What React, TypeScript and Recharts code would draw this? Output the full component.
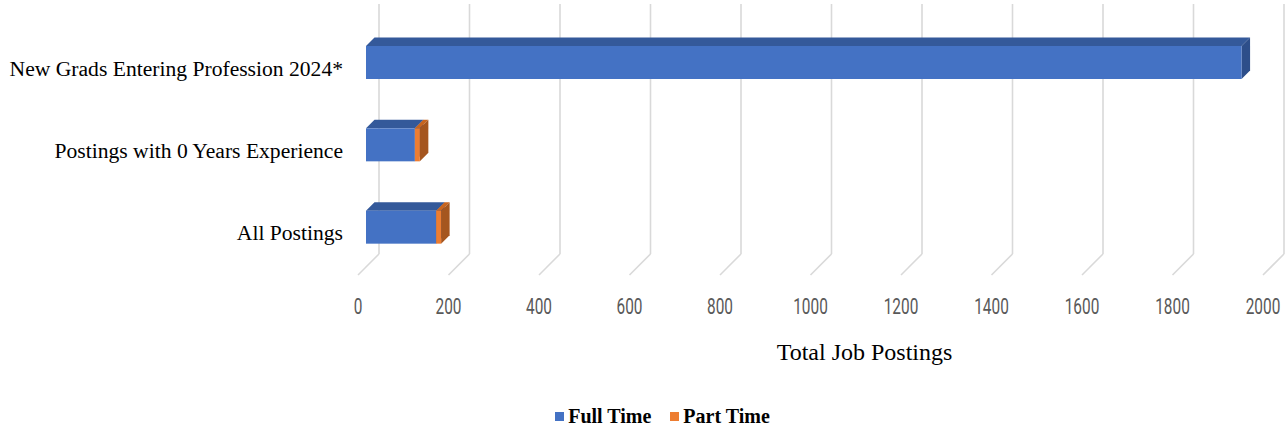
import React from "react";
import { BarChart, Bar, XAxis, YAxis, CartesianGrid, Legend } from "recharts";

const categories = [
  "New Grads Entering Profession 2024*",
  "Postings with 0 Years Experience",
  "All Postings",
];
const fullTime = [1935, 108, 155];
const partTime = [0, 11, 11];
const xTicks = [0, 200, 400, 600, 800, 1000, 1200, 1400, 1600, 1800, 2000];
const axisTitle = "Total Job Postings";

const data = categories.map((name, i) => ({ name, fullTime: fullTime[i], partTime: partTime[i] }));

// 3d look: wall depth and bar offset/depth in px
const WALL_DEPTH = 21;
const BAR_OFF = 8;
const BAR_DEPTH = 8.5;
const FLOOR_Y = 275;
const WALL_TOP = 4;
const GRID = "#D9D9D9";
const SERIF = "'Liberation Serif', 'Times New Roman', serif";

const colors = {
  fullTime: { front: "#4472C4", top: "#34599A", side: "#2D4E8A" },
  partTime: { front: "#ED7D31", top: "#C8651F", side: "#A5561F" },
};

function prism(c: { front: string; top: string; side: string }) {
  return (props: any) => {
    const { x, y, width, height } = props;
    if (!width || width <= 0) return <g />;
    const fx = x + BAR_OFF;
    const fy = y - BAR_OFF;
    const d = BAR_DEPTH;
    return (
      <g>
        <polygon
          points={`${fx},${fy} ${fx + d},${fy - d} ${fx + width + d},${fy - d} ${fx + width},${fy}`}
          fill={c.top}
        />
        <polygon
          points={`${fx + width},${fy} ${fx + width + d},${fy - d} ${fx + width + d},${fy - d + height} ${fx + width},${fy + height}`}
          fill={c.side}
        />
        <rect x={fx} y={fy} width={width} height={height} fill={c.front} />
      </g>
    );
  };
}

const gridLine = (props: any) => {
  const x = props.x1;
  return (
    <g key={props.key}>
      <line x1={x} y1={FLOOR_Y} x2={x + WALL_DEPTH} y2={FLOOR_Y - WALL_DEPTH} stroke={GRID} strokeWidth={1.6} />
      <line x1={x + WALL_DEPTH} y1={FLOOR_Y - WALL_DEPTH} x2={x + WALL_DEPTH} y2={WALL_TOP} stroke={GRID} strokeWidth={1.6} />
    </g>
  );
};

const XTick = (props: any) => {
  const { x, y, payload } = props;
  return (
    <text
      x={0}
      y={0}
      transform={`translate(${x},${y + 30}) scale(0.7,1)`}
      textAnchor="middle"
      dy="0.36em"
      fill="#595959"
      fontFamily="Roboto, sans-serif"
      fontSize={22}
    >
      {payload.value}
    </text>
  );
};

const YTick = (props: any) => {
  const { x, y, payload } = props;
  return (
    <text x={x - 15} y={y - 2} dy="0.35em" textAnchor="end" fill="#000" fontFamily={SERIF} fontSize={21.6}>
      {payload.value}
    </text>
  );
};

const renderLegend = (props: any) => {
  const items = props.payload || [];
  return (
    <div
      style={{
        display: "flex",
        justifyContent: "center",
        alignItems: "center",
        height: 30,
        paddingLeft: 62,
        boxSizing: "border-box",
        gap: 19,
      }}
    >
      {items.map((it: any) => (
        <div key={it.value} style={{ display: "flex", alignItems: "center" }}>
          <span style={{ width: 9, height: 9, background: it.color, display: "inline-block", marginRight: 4 }} />
          <span style={{ fontFamily: SERIF, fontWeight: "bold", fontSize: 20, color: "#000" }}>{it.value}</span>
        </div>
      ))}
    </div>
  );
};

export default function App() {
  return (
    <div style={{ position: "absolute", left: 0, top: 0 }}>
      <BarChart
        width={1286}
        height={432}
        data={data}
        layout="vertical"
        margin={{ top: 29, right: 23, bottom: 1, left: 0 }}
      >
        <CartesianGrid horizontal={false} vertical={gridLine} />
        <XAxis
          type="number"
          domain={[0, 2000]}
          ticks={xTicks}
          interval={0}
          axisLine={false}
          tickLine={false}
          tickSize={0}
          tickMargin={0}
          height={125}
          tick={<XTick />}
          label={{
            value: axisTitle,
            content: (p: any) => {
              const vb = p.viewBox || { x: 358, y: 276, width: 905 };
              return (
                <text
                  x={vb.x + vb.width / 2 + 54}
                  y={vb.y + 76}
                  dy="0.35em"
                  textAnchor="middle"
                  fill="#000"
                  fontFamily={SERIF}
                  fontSize={24}
                >
                  {axisTitle}
                </text>
              );
            },
          }}
        />
        <YAxis
          type="category"
          dataKey="name"
          width={358}
          axisLine={false}
          tickLine={false}
          tickSize={0}
          tickMargin={0}
          tick={<YTick />}
        />
        <Legend verticalAlign="bottom" content={renderLegend} />
        <Bar
          dataKey="fullTime"
          name="Full Time"
          stackId="a"
          fill={colors.fullTime.front}
          barSize={33}
          shape={prism(colors.fullTime)}
          isAnimationActive={false}
        />
        <Bar
          dataKey="partTime"
          name="Part Time"
          stackId="a"
          fill={colors.partTime.front}
          barSize={33}
          shape={prism(colors.partTime)}
          isAnimationActive={false}
        />
      </BarChart>
    </div>
  );
}
